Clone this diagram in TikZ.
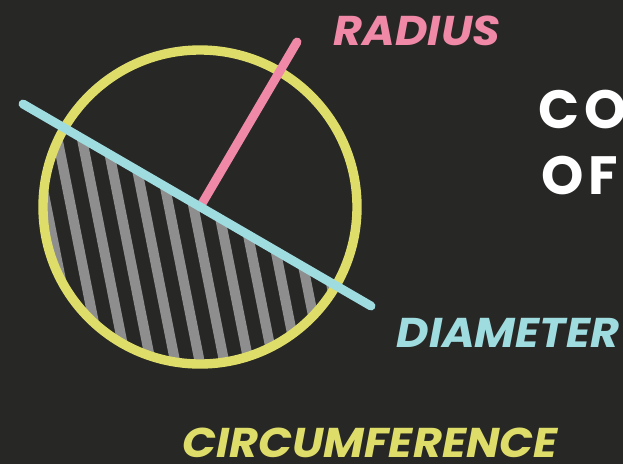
\documentclass[tikz,border=0pt]{standalone}
\usepackage{fontspec}
\setmainfont{Poppins}
\definecolor{bgcol}{RGB}{39,39,38}
\definecolor{circcol}{RGB}{222,221,106}
\definecolor{radcol}{RGB}{240,136,168}
\definecolor{diamcol}{RGB}{158,220,224}
\definecolor{hatchcol}{RGB}{142,142,142}

\begin{document}
\begin{tikzpicture}[
  x=0.03cm, y=-0.03cm,
  rim/.style={draw=circcol, line width=8pt},
  seg/.style={line width=7.6pt, line cap=round},
  stripe/.style={draw=hatchcol, line width=8.6pt},
  lbl/.style={inner sep=0pt, font=\fontsize{35.5}{35.5}\selectfont\bfseries\itshape\addfontfeature{FakeStretch=1.07}},
  ttl/.style={inner sep=0pt, anchor=west, font=\fontsize{46}{46}\selectfont\bfseries\addfontfeature{LetterSpace=9}}
]
\fill[bgcol] (0,0) rectangle (623,464);
\useasboundingbox (0,0) rectangle (623,464);
\coordinate (ctr) at (200,207);
\coordinate (dA) at (23,104);
\coordinate (dB) at (371,306);
\coordinate (rEnd) at (297,42);
% hatched half below the diameter
\begin{scope}
  \clip (ctr) ++(30:157) arc[start angle=30, end angle=210, radius=157] -- cycle;
  \foreach \k in {-8,...,14}
    \draw[stripe] ({120+24.5*\k-41},0) -- ({120+24.5*\k+41},414);
\end{scope}
\draw[rim] (ctr) circle[radius=157];
\draw[seg, radcol] (ctr) -- (rEnd);
\draw[seg, diamcol] (dA) -- (dB);
% labels
\node[lbl, text=radcol]  (radius) at (417,31)  {RADIUS};
\node[lbl, text=diamcol] (diam)   at (508,333) {DIAMETER};
\node[lbl, text=circcol] (circ)   at (370,443) {CIRCUMFERENCE};
\node[ttl, text=white]   (ttlA)   at (538,109) {CO};
\node[ttl, text=white]   (ttlB)   at (541,175) {OF};
\end{tikzpicture}
\end{document}
